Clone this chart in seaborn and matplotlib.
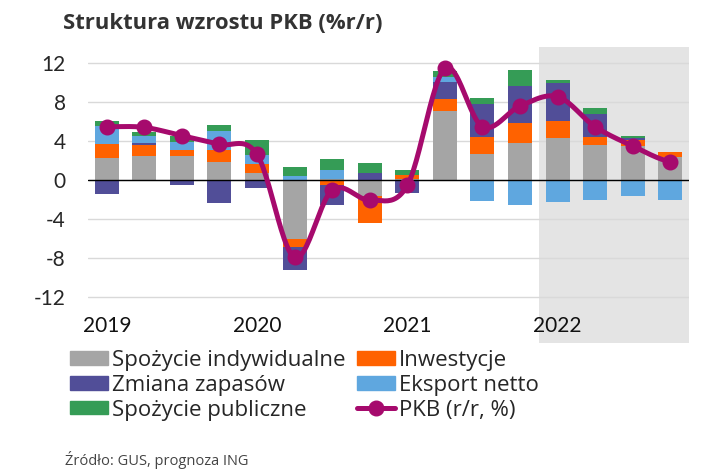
import numpy as np
import matplotlib.pyplot as plt
import seaborn as sns
from matplotlib.patches import Patch
from matplotlib.lines import Line2D

# kwartaly 2019Q1 - 2022Q4
quarters = ['2019Q1', '2019Q2', '2019Q3', '2019Q4', '2020Q1', '2020Q2', '2020Q3', '2020Q4',
            '2021Q1', '2021Q2', '2021Q3', '2021Q4', '2022Q1', '2022Q2', '2022Q3', '2022Q4']
years = ['2019', '2020', '2021', '2022']

spozycie_ind = [2.3, 2.43, 2.5, 1.85, 0.68, -6.09, 0.14, -1.64, 0.14, 7.08, 2.63, 3.76, 4.34, 3.62, 3.45, 2.36]
inwestycje = [1.37, 1.13, 0.55, 1.26, 0.92, -0.82, -0.51, -2.8, 0.41, 1.2, 1.74, 2.05, 1.74, 0.75, 0.68, 0.51]
zapasy = [-1.44, 0.24, -0.55, -2.32, -0.82, -2.32, -2.09, 0.75, -1.3, 1.81, 3.38, 3.83, 3.83, 2.43, 0.2, 0.0]
eksport = [1.88, 0.75, 0.82, 1.91, 0.99, 0.41, 0.89, 0.0, 0.0, 0.44, -2.12, -2.56, -2.22, -2.02, -1.68, -2.02]
spozycie_pub = [0.5, 0.41, 0.62, 0.65, 1.47, 0.96, 1.16, 0.96, 0.48, 0.65, 0.62, 1.64, 0.34, 0.62, 0.14, -0.07]
pkb = [5.47, 5.4, 4.55, 3.66, 2.63, -7.93, -1.03, -2.05, -0.55, 11.45, 5.47, 7.59, 8.55, 5.47, 3.49, 1.88]

series = [
    ('Spożycie indywidualne', spozycie_ind, '#a5a5a5'),
    ('Inwestycje', inwestycje, '#ff6200'),
    ('Zmiana zapasów', zapasy, '#514e98'),
    ('Eksport netto', eksport, '#5fa7df'),
    ('Spożycie publiczne', spozycie_pub, '#359c56'),
]
pkb_color = '#a60a6d'


def smooth(y, n=25):
    # krzywa Catmull-Rom jak "wygladzona linia" w Excelu
    p = np.array(y, dtype=float)
    xs, ys = [], []
    for i in range(len(p) - 1):
        p0 = p[i - 1] if i > 0 else p[i]
        p1, p2 = p[i], p[i + 1]
        p3 = p[i + 2] if i + 2 < len(p) else p[i + 1]
        t = np.linspace(0, 1, n, endpoint=False)
        yy = 0.5 * (2 * p1 + (-p0 + p2) * t + (2 * p0 - 5 * p1 + 4 * p2 - p3) * t ** 2
                    + (-p0 + 3 * p1 - 3 * p2 + p3) * t ** 3)
        xs.extend(i + t)
        ys.extend(yy)
    xs.append(len(p) - 1)
    ys.append(p[-1])
    return np.array(xs), np.array(ys)


sns.set_style('white')
plt.rcParams['font.family'] = ['Open Sans', 'DejaVu Sans']

fig = plt.figure(figsize=(7.23, 4.73), dpi=100)
ax = fig.add_axes([88 / 723, 1 - 343 / 473, (689 - 88) / 723, (343 - 46.7) / 473])

x = np.arange(len(quarters))
ax.axvspan(11.5, 15.5, color='#e4e4e4', zorder=0, lw=0)

pos_bottom = np.zeros(len(x))
neg_bottom = np.zeros(len(x))
for name, vals, col in series:
    v = np.array(vals)
    bottom = np.where(v >= 0, pos_bottom, neg_bottom)
    ax.bar(x, v, bottom=bottom, width=0.64, color=col, linewidth=0, zorder=2)
    pos_bottom += np.where(v >= 0, v, 0)
    neg_bottom += np.where(v < 0, v, 0)

ax.axhline(0, color='black', lw=1, zorder=3)

sx, sy = smooth(pkb)
sns.lineplot(x=sx, y=sy, ax=ax, color=pkb_color, lw=3.6, zorder=4, sort=False)
ax.plot(x, pkb, 'o', color=pkb_color, ms=10.5, zorder=5)

ax.set_xlim(-0.5, 15.5)
ax.set_ylim(-16.7, 13.67)
ax.set_yticks(range(-12, 13, 4))
ax.set_yticklabels([str(v) for v in range(-12, 13, 4)], family=['Lato', 'DejaVu Sans'], fontsize=15)
ax.tick_params(axis='y', length=0, pad=16)
ax.set_xticks([])
ax.yaxis.grid(True, color='#d9d9d9', lw=1)
ax.set_axisbelow(True)
for s in ax.spines.values():
    s.set_visible(False)

for i, yr in enumerate(years):
    ax.text(i * 4, -15.0, yr, ha='center', va='center', fontsize=15, family=['Lato', 'DejaVu Sans'], color='#111111')

fig.text(63 / 723, 1 - 29 / 473, 'Struktura wzrostu PKB (%r/r)', fontsize=15.8, fontweight='bold',
         color='#333333', va='baseline')

handles = [Patch(color=series[0][2]), Patch(color=series[2][2]), Patch(color=series[4][2]),
           Patch(color=series[1][2]), Patch(color=series[3][2]),
           Line2D([], [], color=pkb_color, lw=3.6, marker='o', ms=10.5)]
labels = [series[0][0], series[2][0], series[4][0], series[1][0], series[3][0], 'PKB (r/r, %)']
fig.legend(handles, labels, ncol=2, loc='upper left', bbox_to_anchor=(70 / 723, 1 - 350 / 473),
           frameon=False, fontsize=16, handlelength=1.7, handleheight=0.55, handletextpad=0.2,
           labelspacing=0.17, columnspacing=0.5, borderpad=0, borderaxespad=0)

fig.text(65 / 723, 1 - 465 / 473, 'Źródło: GUS, prognoza ING', fontsize=10.5, color='#444444', va='baseline')

fig.savefig('out.png', dpi=100)
